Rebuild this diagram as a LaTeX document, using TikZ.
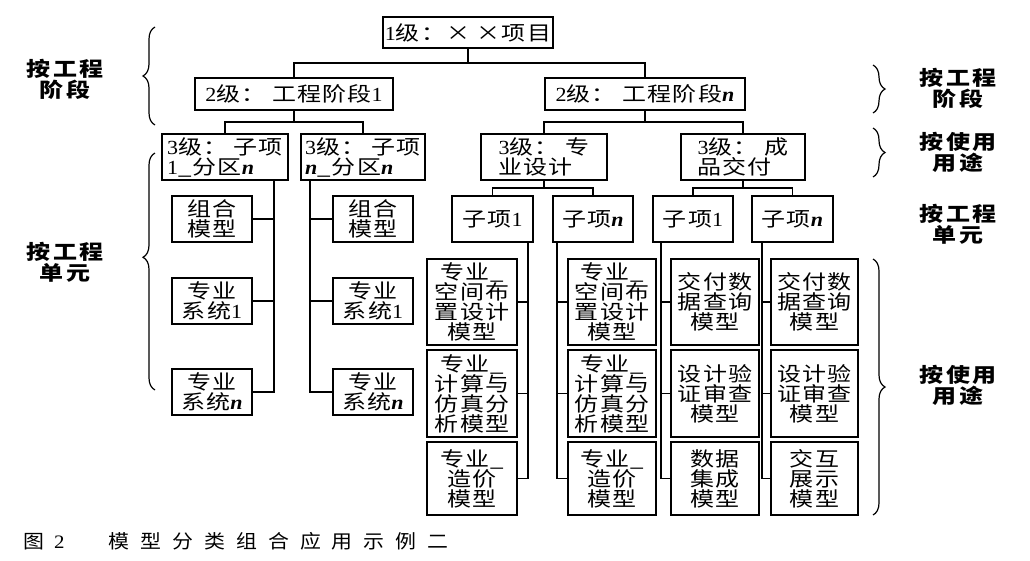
\documentclass[tikz,border=0pt]{standalone}
\usepackage{fontspec}
\usetikzlibrary{calc,decorations.pathreplacing}
\setmainfont{Liberation Serif}
\newfontfamily\cjk[FakeStretch=1.2,LetterSpace=6]{Noto Sans CJK SC}
\newfontfamily\cjklbl[FakeStretch=1.2,LetterSpace=12]{Noto Sans CJK SC}
\newfontfamily\capfont[FakeStretch=1.1,LetterSpace=58]{Noto Sans CJK SC}
\newfontfamily\lat[FakeStretch=1.1]{Liberation Serif}
\newcommand\nn{{\lat\itshape\bfseries n}}
\newcommand\dg[1]{{\lat #1}}
\newcommand\treeconn[2]{\path (#1.south |- #2.north) coordinate (tmpc);
  \draw[conn] (#1.south) -- ($(#1.south)!0.5!(tmpc)$) -| (#2.north);}
\begin{document}
\begin{tikzpicture}[x=1pt,y=-1pt,
  box/.style={draw,line width=1.8pt,inner sep=0pt,align=center,
    font=\cjk\fontsize{20}{20}\selectfont},
  lbox/.style={box,align=left,font=\cjk\fontsize{20}{20}\selectfont},
  conn/.style={line width=1.3pt},
  brc/.style={decorate,decoration={brace,amplitude=12pt},line width=1.2pt},
  lbl/.style={align=center,font=\cjklbl\bfseries\fontsize{20}{21}\selectfont}]
\useasboundingbox (0,0) rectangle (1030,560);
% level 1, 2
\node[box,minimum width=170pt,minimum height=31pt] (top) at (468,32.5) {\dg{1}级：× ×项目};
\node[box,minimum width=198pt,minimum height=32pt] (s1) at (294,94) {\dg{2}级： 工程阶段\dg{1}};
\node[box,minimum width=200pt,minimum height=32pt] (sn) at (645,94) {\dg{2}级： 工程阶段\nn};
% level 3
\node[lbox,minimum width=126pt,minimum height=46pt] (pa) at (225,157) {\dg{3}级： 子项\\\dg{1}\_分区\nn};
\node[lbox,minimum width=124pt,minimum height=46pt] (pb) at (363,157) {\dg{3}级： 子项\\\nn\_分区\nn};
\node[lbox,minimum width=126pt,minimum height=46pt] (pc) at (544,157) {\dg{3}级： 专\\业设计};
\node[lbox,minimum width=124pt,minimum height=46pt] (pd) at (743,157) {\dg{3}级： 成\\品交付};
% level 4
\node[box,minimum width=81pt,minimum height=46pt] (za) at (492.5,219) {子项\dg{1}};
\node[box,minimum width=80pt,minimum height=46pt] (zb) at (593,219) {子项\nn};
\node[box,minimum width=80pt,minimum height=46pt] (zc) at (693,219) {子项\dg{1}};
\node[box,minimum width=81pt,minimum height=46pt] (zd) at (792.5,219) {子项\nn};
% left groups
\node[box,minimum width=80pt,minimum height=46pt] (g1) at (212,219) {组合\\模型};
\node[box,minimum width=80pt,minimum height=46pt] (g2) at (212,301) {专业\\系统\dg{1}};
\node[box,minimum width=80pt,minimum height=46pt] (g3) at (212,392) {专业\\系统\nn};
\node[box,minimum width=80pt,minimum height=46pt] (h1) at (373,219) {组合\\模型};
\node[box,minimum width=80pt,minimum height=46pt] (h2) at (373,301) {专业\\系统\dg{1}};
\node[box,minimum width=80pt,minimum height=46pt] (h3) at (373,392) {专业\\系统\nn};
% tall columns
\node[box,minimum width=90pt,minimum height=86pt] (a1) at (472,302) {专业\_\\空间布\\置设计\\模型};
\node[box,minimum width=90pt,minimum height=87pt] (a2) at (472,393.5) {专业\_\\计算与\\仿真分\\析模型};
\node[box,minimum width=90pt,minimum height=73pt] (a3) at (472,478.5) {专业\_\\造价\\模型};
\node[box,minimum width=88pt,minimum height=86pt] (b1) at (612,302) {专业\_\\空间布\\置设计\\模型};
\node[box,minimum width=88pt,minimum height=87pt] (b2) at (612,393.5) {专业\_\\计算与\\仿真分\\析模型};
\node[box,minimum width=88pt,minimum height=73pt] (b3) at (612,478.5) {专业\_\\造价\\模型};
\node[box,minimum width=88pt,minimum height=86pt] (c1) at (715,302) {交付数\\据查询\\模型};
\node[box,minimum width=88pt,minimum height=87pt] (c2) at (715,393.5) {设计验\\证审查\\模型};
\node[box,minimum width=88pt,minimum height=73pt] (c3) at (715,478.5) {数据\\集成\\模型};
\node[box,minimum width=87pt,minimum height=86pt] (d1) at (814.5,302) {交付数\\据查询\\模型};
\node[box,minimum width=87pt,minimum height=87pt] (d2) at (814.5,393.5) {设计验\\证审查\\模型};
\node[box,minimum width=87pt,minimum height=73pt] (d3) at (814.5,478.5) {交互\\展示\\模型};
% tree connectors
\treeconn{top}{s1}
\treeconn{top}{sn}
\treeconn{s1}{pa}
\treeconn{s1}{pb}
\treeconn{sn}{pc}
\treeconn{sn}{pd}
\treeconn{pc}{za}
\treeconn{pc}{zb}
\treeconn{pd}{zc}
\treeconn{pd}{zd}
% trunks
\foreach \c in {g1,g2,g3} \draw[conn] ([xshift=-15pt]pa.south east) |- (\c.east);
\foreach \c in {h1,h2,h3} \draw[conn] ([xshift=10pt]pb.south west) |- (\c.west);
\foreach \c in {a1,a2,a3} \draw[conn] ([xshift=-6pt]za.south east) |- (\c.east);
\foreach \c in {b1,b2,b3} \draw[conn] ([xshift=5pt]zb.south west) |- (\c.west);
\foreach \c in {c1,c2,c3} \draw[conn] ([xshift=9pt]zc.south west) |- (\c.west);
\foreach \c in {d1,d2,d3} \draw[conn] ([xshift=11pt]zd.south west) |- (\c.west);
% braces
\coordinate (bl1t) at (155,27); \coordinate (bl1b) at (155,125);
\coordinate (bl2t) at (155,153); \coordinate (bl2b) at (155,390);
\coordinate (br1t) at (873,65); \coordinate (br1b) at (873,113);
\coordinate (br2t) at (873,128); \coordinate (br2b) at (873,177);
\coordinate (br3t) at (873,259); \coordinate (br3b) at (873,515);
\draw[brc] (bl1b) -- (bl1t);
\draw[brc,decoration={aspect=0.56}] (bl2b) -- (bl2t);
\draw[brc] (br1t) -- (br1b);
\draw[brc] (br2t) -- (br2b);
\draw[brc] (br3t) -- (br3b);
% labels
\node[lbl] (lA) at (65,79) {按工程\\阶段};
\node[lbl] (lB) at (65,262) {按工程\\单元};
\node[lbl] (rA) at (958,88) {按工程\\阶段};
\node[lbl] (rB) at (958,152) {按使用\\用途};
\node[lbl] (rC) at (958,224) {按工程\\单元};
\node[lbl] (rD) at (958,385) {按使用\\用途};
% caption
\node[anchor=west,inner sep=0pt,font=\capfont\fontsize{19}{20}\selectfont] (cap) at (23,541) {图\hspace{10pt}\dg{2}\hspace{44pt}模型分类组合应用示例二};
\end{tikzpicture}
\end{document}
